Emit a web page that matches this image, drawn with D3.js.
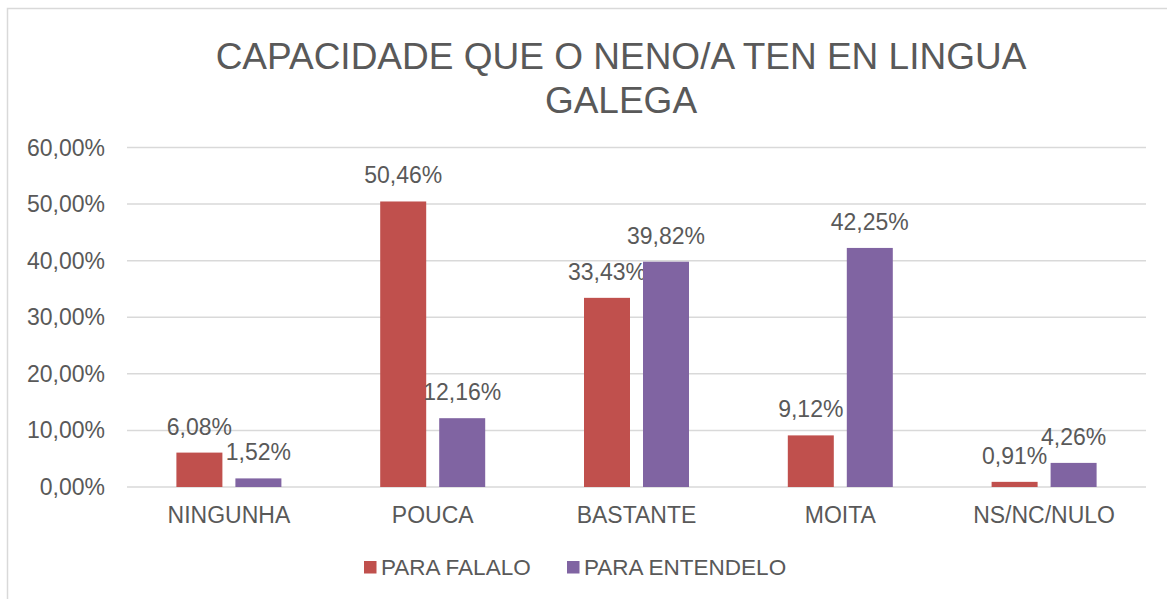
<!DOCTYPE html>
<html>
<head>
<meta charset="utf-8">
<script src="https://cdn.jsdelivr.net/npm/d3@7"></script>
<style>
  body { margin: 0; background: #fff; }
  text { font-family: "Liberation Sans", Arial, sans-serif; fill: #595959; }
</style>
</head>
<body>
<div class="wrapper"></div>
<script>
const categories = ["NINGUNHA", "POUCA", "BASTANTE", "MOITA", "NS/NC/NULO"];
const seriesNames = ["PARA FALALO", "PARA ENTENDELO"];
const falalo = [6.08, 50.46, 33.43, 9.12, 0.91];
const entendelo = [1.52, 12.16, 39.82, 42.25, 4.26];
const yTicks = [0, 10, 20, 30, 40, 50, 60];
const titleLines = ["CAPACIDADE QUE O NENO/A TEN EN LINGUA", "GALEGA"];

const colors = ["#C0504D", "#8064A2"];
const width = 1167, height = 599;
const plot = {left: 127, right: 1146, top: 147.5, bottom: 487};

const fmt = v => v.toFixed(2).replace(".", ",") + "%";

const svg = d3.select(".wrapper").append("svg")
    .attr("width", width)
    .attr("height", height);

// outer chart border (only top and left are in frame)
svg.append("rect")
    .attr("x", 7.5).attr("y", 8.5)
    .attr("width", width + 20).attr("height", height + 20)
    .attr("fill", "none")
    .attr("stroke", "#D9D9D9")
    .attr("stroke-width", 1.5);

// title
svg.append("g").selectAll("text")
    .data(titleLines)
    .join("text")
    .attr("x", 621)
    .attr("y", (d, i) => 69 + i * 44)
    .attr("text-anchor", "middle")
    .style("font-size", "37px")
    .text(d => d);

const x = d3.scaleBand().domain(categories).range([plot.left, plot.right]);
const y = d3.scaleLinear().domain([0, 60]).range([plot.bottom, plot.top]);

// gridlines
svg.append("g").selectAll("line")
    .data(yTicks)
    .join("line")
    .attr("x1", plot.left).attr("x2", plot.right)
    .attr("y1", d => y(d)).attr("y2", d => y(d))
    .attr("stroke", "#D9D9D9")
    .attr("stroke-width", 1.5);

// y tick labels
svg.append("g").selectAll("text")
    .data(yTicks)
    .join("text")
    .attr("x", 105)
    .attr("y", d => y(d))
    .attr("dy", "0.35em")
    .attr("text-anchor", "end")
    .style("font-size", "23px")
    .text(d => fmt(d));

// x category labels
svg.append("g").selectAll("text")
    .data(categories)
    .join("text")
    .attr("x", d => x(d) + x.bandwidth() / 2)
    .attr("y", 523)
    .attr("text-anchor", "middle")
    .style("font-size", "23px")
    .text(d => d);

// bars + data labels
const barW = 46, gap = 13;
const series = [falalo, entendelo];

series.forEach((vals, s) => {
    const offset = s === 0 ? -gap / 2 - barW : gap / 2;
    const g = svg.append("g");
    g.selectAll("rect")
        .data(vals)
        .join("rect")
        .attr("x", (d, i) => x(categories[i]) + x.bandwidth() / 2 + offset)
        .attr("y", d => y(d))
        .attr("width", barW)
        .attr("height", d => y(0) - y(d))
        .attr("fill", colors[s]);

    g.selectAll("text")
        .data(vals)
        .join("text")
        .attr("x", (d, i) => x(categories[i]) + x.bandwidth() / 2 + offset + barW / 2)
        .attr("y", d => y(d) - 18)
        .attr("text-anchor", "middle")
        .style("font-size", "23px")
        .text(d => fmt(d));
});

// legend
const legendX = [364, 567];
const legend = svg.append("g").selectAll("g")
    .data(seriesNames)
    .join("g")
    .attr("transform", (d, i) => "translate(" + legendX[i] + ",561)");
legend.append("rect")
    .attr("width", 12.5).attr("height", 12.5)
    .attr("fill", (d, i) => colors[i]);
legend.append("text")
    .attr("x", 17)
    .attr("y", 14)
    .style("font-size", "22.5px")
    .text(d => d);
</script>
</body>
</html>
